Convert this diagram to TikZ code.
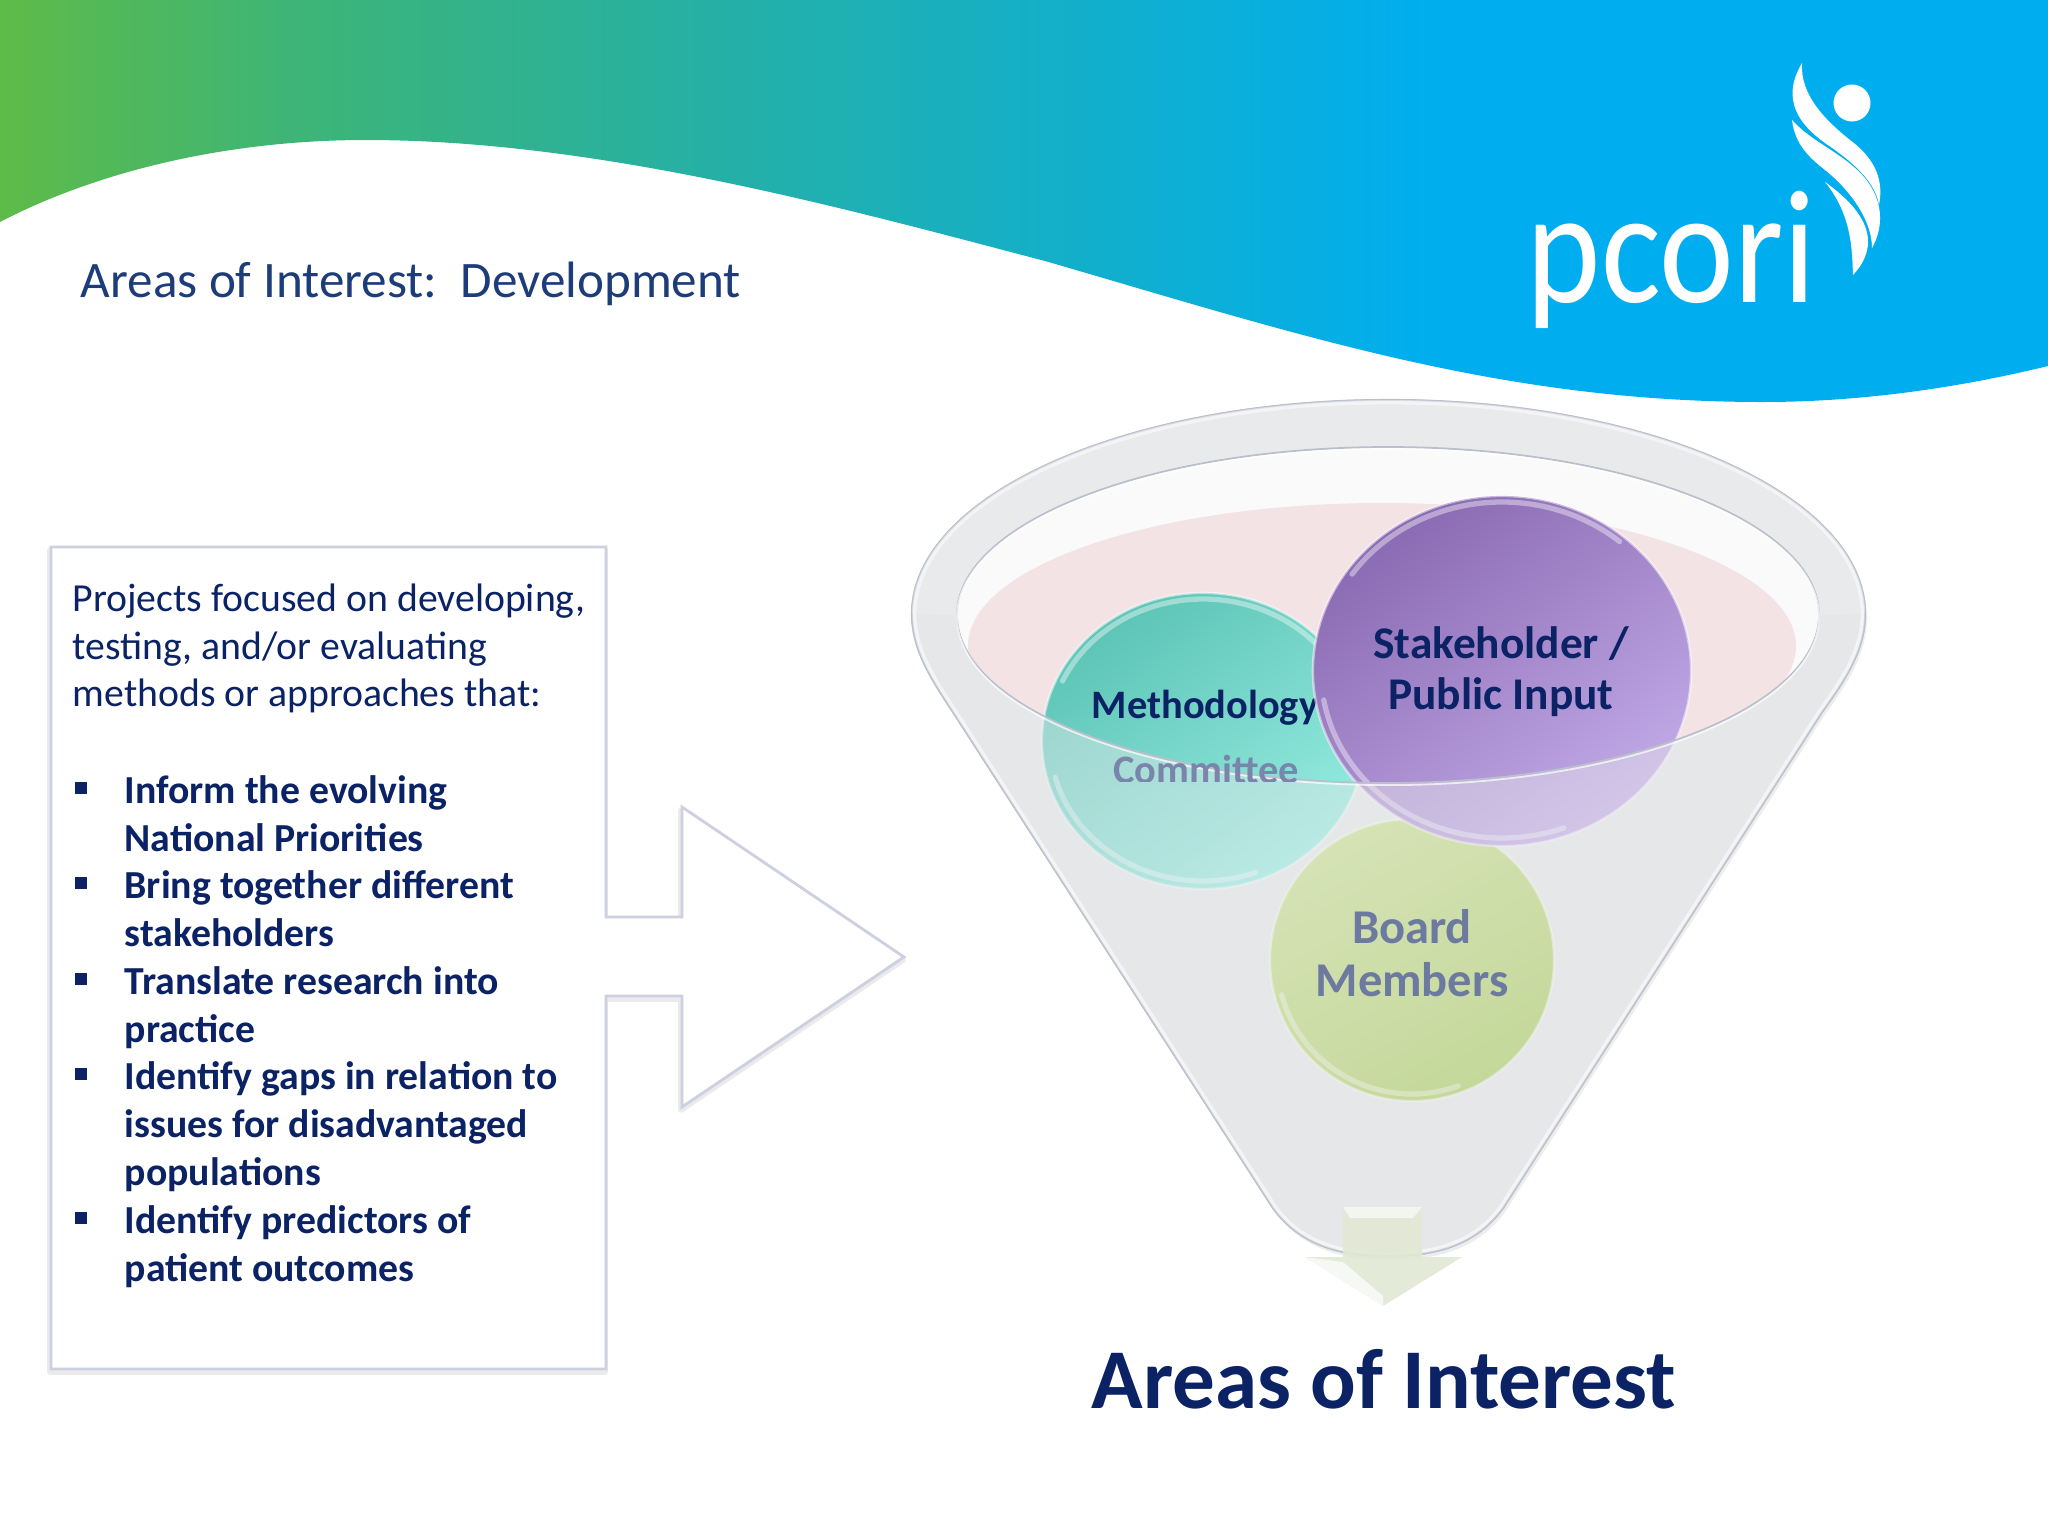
\documentclass[tikz,border=0pt]{standalone}
\usepackage{fontspec}
\setmainfont{Carlito}
\usepackage{xcolor}
\usetikzlibrary{shapes.geometric}
\definecolor{navy}{RGB}{11,34,101}
\definecolor{titleblue}{RGB}{28,60,122}
\definecolor{wavegreen}{RGB}{94,187,72}
\definecolor{wavemoss}{RGB}{62,181,118}
\definecolor{waveteal}{RGB}{36,176,168}
\definecolor{waveblue}{RGB}{0,174,239}
\definecolor{funnelgrey}{RGB}{230,231,233}
\definecolor{rimline}{RGB}{186,191,203}
\definecolor{liquid}{RGB}{243,227,229}
\definecolor{boxline}{RGB}{205,208,224}
\definecolor{arrowgreen}{RGB}{226,232,212}
\definecolor{tealtop}{RGB}{92,196,182}
\definecolor{tealend}{RGB}{150,236,224}
\definecolor{greentop}{RGB}{200,224,140}
\definecolor{greenend}{RGB}{170,205,90}
\definecolor{purpletop}{RGB}{138,106,178}
\definecolor{purpleend}{RGB}{194,170,232}
\pgfdeclarehorizontalshading{wavefade}{100bp}{color(0bp)=(wavegreen); color(25bp)=(wavegreen); color(32bp)=(wavemoss); color(43bp)=(waveteal); color(60bp)=(waveblue); color(100bp)=(waveblue)}
\tikzset{
  bodytext/.style={anchor=north west,inner sep=0pt,align=left,text=navy,font=\fontsize{11.3}{13.6}\selectfont},
  itemtext/.style={bodytext,font=\fontsize{11.3}{13.6}\selectfont\bfseries},
  bulletmark/.style={rectangle,fill=navy,inner sep=0pt,minimum size=3.2pt},
  ball/.style={ellipse,inner sep=0pt,draw=white,draw opacity=0.5,line width=0.7pt},
  balltext/.style={align=center,inner sep=0pt,text=navy,font=\fontsize{12.9}{14.5}\selectfont\bfseries},
  smalltext/.style={balltext,font=\fontsize{11.5}{14}\selectfont\bfseries},
  glint/.style={white,opacity=0.4,line width=1.5pt,line cap=round},
}
\begin{document}
\begin{tikzpicture}[x=0.01cm,y=-0.01cm]
\def\funnelbody{(912,614) arc[start angle=180,end angle=360,x radius=476.5,y radius=214]
  .. controls (1865,650) and (1845,680) .. (1822,712) -- (1503,1208)
  .. controls (1476,1245) and (1436,1256) .. (1388,1256)
  .. controls (1340,1256) and (1300,1245) .. (1273,1208) -- (953,712)
  .. controls (932,680) and (912,650) .. (912,614) -- cycle}
\def\innerrim{(1388,615) ellipse [x radius=431,y radius=168]}
\useasboundingbox (0,0) rectangle (2048,1536);
\fill[white] (0,0) rectangle (2048,1536);

% header wave
\shade[shading=wavefade] (0,0) -- (2048,0) -- (2048,366)
  .. controls (1970,385) and (1870,402) .. (1763,402)
  .. controls (1500,402) and (1300,335) .. (1045,261)
  .. controls (850,210) and (600,140) .. (366,140)
  .. controls (230,140) and (100,170) .. (0,222) -- cycle;

% logo
\node[anchor=base west,inner sep=0pt,text=white,font=\fontsize{46}{46}\selectfont] (logotext) at (1526,302) {\scalebox{0.875}[1]{pcori}};
\fill[white] (1852,103) circle (18.5);
\fill[white] (1802,63) .. controls (1800,95) and (1825,120) .. (1850,140)
  .. controls (1870,155) and (1885,175) .. (1879,205)
  .. controls (1875,180) and (1850,160) .. (1825,143)
  .. controls (1800,125) and (1780,100) .. (1802,63) -- cycle;
\fill[white] (1792,120) .. controls (1810,140) and (1835,150) .. (1855,168)
  .. controls (1875,185) and (1890,215) .. (1872,248)
  .. controls (1872,220) and (1850,190) .. (1825,170)
  .. controls (1810,158) and (1795,145) .. (1792,120) -- cycle;
\fill[white] (1825,182) .. controls (1850,200) and (1890,235) .. (1853,275)
  .. controls (1852,250) and (1852,215) .. (1825,182) -- cycle;

\node[anchor=west,inner sep=0pt,text=titleblue,font=\fontsize{14.55}{17}\selectfont] (slidetitle) at (80,284) {Areas of Interest:\ \ Development};

% box and arrow
\def\boxarrow{(51,547) -- (606,547) -- (606,917) -- (682,917) -- (682,807) -- (904,957)
  -- (682,1107) -- (682,996) -- (606,996) -- (606,1369) -- (51,1369) -- cycle}
\draw[black!8,line width=1.6pt,line join=round,shift={(-1,3)}] \boxarrow;
\draw[boxline,line width=0.8pt,fill=white] \boxarrow;

\node[bodytext] (introtext) at (72,583) {Projects focused on developing,\\testing, and/or evaluating\\methods or approaches that:};
\node[itemtext] (itemone) at (124,775) {Inform the evolving\\National Priorities};
\node[itemtext] (itemtwo) at (124,870) {Bring together different\\stakeholders};
\node[itemtext] (itemthree) at (124,966) {Translate research into\\practice};
\node[itemtext] (itemfour) at (124,1061) {Identify gaps in relation to\\issues for disadvantaged\\populations};
\node[itemtext] (itemfive) at (124,1205) {Identify predictors of\\patient outcomes};
\foreach \n/\y in {a/788,b/883,c/979,d/1074,e/1218}
  \node[bulletmark] (bullet\n) at (81,\y) {};

% funnel, back part
\fill[black!7,shift={(2,4)}] \funnelbody;
\draw[rimline,line width=0.6pt,fill=funnelgrey] \funnelbody;
\begin{scope}
\clip \funnelbody;
\draw[white,line width=2.5pt] \funnelbody;
\end{scope}
\draw[rimline,line width=0.5pt] \funnelbody;
\fill[white,opacity=0.3] (912,614) arc[start angle=180,end angle=360,x radius=476.5,y radius=214]
  -- (1819,615) arc[start angle=360,end angle=180,x radius=431,y radius=168] -- cycle;
\fill[white!98!black] \innerrim;
\begin{scope}
\clip \innerrim;
\fill[liquid] (1382,646) ellipse [x radius=414,y radius=143];
\end{scope}

% balls
\node[ball,minimum width=3.22cm,minimum height=2.96cm,top color=tealtop,bottom color=tealend,shading angle=35] (methodball) at (1203,741) {};
\draw[glint] (1203,741) +(205:155 and 142) arc[start angle=205,end angle=320,x radius=155,y radius=142];
\draw[glint] (1203,741) +(70:153 and 140) arc[start angle=70,end angle=165,x radius=153,y radius=140];
\node[ball,minimum width=2.84cm,minimum height=2.82cm,top color=greentop,bottom color=greenend,shading angle=30] (boardball) at (1412,960) {};
\draw[glint] (1412,960) +(70:135 and 134) arc[start angle=70,end angle=165,x radius=135,y radius=134];
\node[smalltext] (methodlabel) at (1205,708) {Methodology};
\node[ball,minimum width=3.78cm,minimum height=3.5cm,top color=purpletop,bottom color=purpleend,shading angle=35] (stakeball) at (1502,671) {};
\draw[glint] (1502,671) +(215:183 and 169) arc[start angle=215,end angle=310,x radius=183,y radius=169];
\draw[glint] (1502,671) +(70:181 and 167) arc[start angle=70,end angle=170,x radius=181,y radius=167];
\node[balltext] (stakelabel) at (1501,672) {Stakeholder /\\Public Input};
\node[balltext,font=\fontsize{13.8}{15.2}\selectfont\bfseries] (boardlabel) at (1412,953) {Board\\Members};

% funnel, front glass
\fill[funnelgrey,opacity=0.45,even odd rule] \funnelbody \innerrim;
\draw[rimline,line width=0.5pt] \innerrim;
\draw[white,opacity=0.7,line width=0.5pt,yshift=-0.6pt] \innerrim;

\begin{scope}
\clip (1060,700) rectangle (1320,781);
\node[smalltext,text=navy!55!white] (committeelabel) at (1206,769) {Committee};
\end{scope}

% outlet arrow
\fill[arrowgreen,opacity=0.9] (1343,1207) -- (1422,1207) -- (1422,1257) -- (1462,1257) -- (1383,1306) -- (1305,1257) -- (1343,1257) -- cycle;
\fill[white,opacity=0.7] (1305,1257) -- (1343,1262) -- (1383,1296) -- (1383,1306) -- cycle;
\fill[white,opacity=0.6] (1343,1207) -- (1422,1207) -- (1413,1218) -- (1350,1218) -- cycle;

\node[anchor=base,inner sep=0pt,text=navy,font=\fontsize{24.2}{27}\selectfont\bfseries] (funneltitle) at (1384,1408) {Areas of Interest};
\end{tikzpicture}
\end{document}
